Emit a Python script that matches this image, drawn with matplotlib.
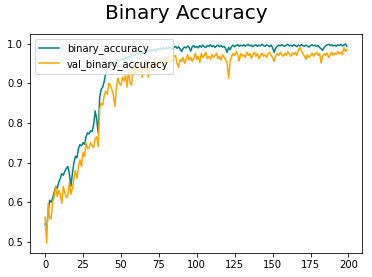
import matplotlib
matplotlib.use("Agg")
import matplotlib.pyplot as plt
import numpy as np

binary_accuracy = [
    0.545, 0.530, 0.575, 0.605, 0.600, 0.610, 0.625, 0.640, 0.635, 0.650,
    0.660, 0.672, 0.668, 0.678, 0.685, 0.690, 0.672, 0.640, 0.672, 0.700,
    0.716, 0.712, 0.735, 0.745, 0.742, 0.750, 0.746, 0.765, 0.775, 0.772,
    0.780, 0.778, 0.795, 0.830, 0.810, 0.775, 0.865, 0.885, 0.890, 0.905,
    0.925, 0.935, 0.940, 0.945, 0.948, 0.952, 0.950, 0.955, 0.958, 0.955,
    0.960, 0.962, 0.958, 0.965, 0.962, 0.968, 0.965, 0.970, 0.972, 0.968,
    0.975, 0.972, 0.978, 0.975, 0.980, 0.976, 0.982, 0.978, 0.984, 0.980,
    0.985, 0.982, 0.986, 0.980, 0.987, 0.984, 0.988, 0.985, 0.990, 0.986,
    0.990, 0.987, 0.992, 0.988, 0.985, 0.990, 0.993, 0.988, 0.992, 0.986,
    0.980, 0.988, 0.991, 0.989, 0.994, 0.990, 0.981, 0.992, 0.995, 0.990,
    0.993, 0.989, 0.995, 0.991, 0.996, 0.992, 0.990, 0.995, 0.993, 0.997,
    0.992, 0.995, 0.990, 0.994, 0.996, 0.992, 0.995, 0.991, 0.993, 0.988,
    0.978, 0.990, 0.985, 0.993, 0.996, 0.992, 0.995, 0.997, 0.993, 0.996,
    0.994, 0.997, 0.993, 0.996, 0.998, 0.994, 0.996, 0.992, 0.995, 0.997,
    0.993, 0.996, 0.994, 0.998, 0.995, 0.993, 0.997, 0.995, 0.992, 0.996,
    0.990, 0.978, 0.988, 0.993, 0.996, 0.994, 0.997, 0.995, 0.993, 0.996,
    0.998, 0.994, 0.996, 0.993, 0.997, 0.995, 0.992, 0.996, 0.994, 0.997,
    0.995, 0.993, 0.996, 0.994, 0.991, 0.995, 0.997, 0.994, 0.996, 0.993,
    0.995, 0.990, 0.987, 0.983, 0.990, 0.994, 0.997, 0.998, 0.995, 0.997,
    0.994, 0.996, 0.993, 0.997, 0.995, 0.998, 0.994, 0.996, 0.999, 0.993,
]

val_binary_accuracy = [
    0.562, 0.497, 0.597, 0.560, 0.558, 0.600, 0.614, 0.640, 0.614, 0.630,
    0.620, 0.597, 0.640, 0.625, 0.612, 0.615, 0.650, 0.620, 0.635, 0.660,
    0.680, 0.660, 0.690, 0.707, 0.690, 0.726, 0.715, 0.750, 0.735, 0.737,
    0.750, 0.742, 0.738, 0.760, 0.765, 0.740, 0.836, 0.850, 0.845, 0.870,
    0.880, 0.872, 0.900, 0.895, 0.885, 0.870, 0.842, 0.890, 0.913, 0.900,
    0.895, 0.915, 0.905, 0.920, 0.890, 0.933, 0.900, 0.895, 0.945, 0.925,
    0.935, 0.950, 0.928, 0.940, 0.915, 0.945, 0.930, 0.955, 0.915, 0.940,
    0.950, 0.935, 0.960, 0.945, 0.955, 0.940, 0.962, 0.950, 0.945, 0.965,
    0.955, 0.968, 0.950, 0.958, 0.956, 0.968, 0.970, 0.950, 0.940, 0.960,
    0.955, 0.965, 0.950, 0.960, 0.972, 0.958, 0.965, 0.955, 0.962, 0.975,
    0.960, 0.968, 0.952, 0.975, 0.965, 0.970, 0.978, 0.962, 0.968, 0.960,
    0.972, 0.965, 0.970, 0.975, 0.962, 0.968, 0.958, 0.972, 0.965, 0.960,
    0.950, 0.913, 0.955, 0.968, 0.975, 0.970, 0.980, 0.972, 0.956, 0.975,
    0.968, 0.972, 0.965, 0.978, 0.970, 0.975, 0.963, 0.972, 0.978, 0.968,
    0.975, 0.962, 0.970, 0.976, 0.968, 0.972, 0.965, 0.974, 0.978, 0.970,
    0.965, 0.955, 0.968, 0.975, 0.970, 0.978, 0.972, 0.968, 0.975, 0.970,
    0.980, 0.974, 0.968, 0.976, 0.972, 0.978, 0.970, 0.984, 0.990, 0.982,
    0.975, 0.968, 0.960, 0.972, 0.965, 0.970, 0.976, 0.968, 0.974, 0.978,
    0.970, 0.975, 0.951, 0.968, 0.974, 0.970, 0.976, 0.965, 0.972, 0.978,
    0.970, 0.976, 0.972, 0.980, 0.974, 0.978, 0.972, 0.990, 0.980, 0.985,
]

epochs = np.arange(len(binary_accuracy))

DPI = 72
fig = plt.figure(figsize=(372 / DPI, 277 / DPI), dpi=DPI)
ax = fig.add_axes([30 / 372, 24 / 277, 332 / 372, 219 / 277])
ax.plot(epochs, binary_accuracy, color="teal", label="binary_accuracy")
ax.plot(epochs, val_binary_accuracy, color="orange", label="val_binary_accuracy")
ax.set_xticks([0, 25, 50, 75, 100, 125, 150, 175, 200])
ax.set_yticks([0.5, 0.6, 0.7, 0.8, 0.9, 1.0])
ax.legend(loc="upper left")
fig.suptitle("Binary Accuracy", fontsize=20, y=0.985)
fig.savefig("out.png", dpi=DPI)
